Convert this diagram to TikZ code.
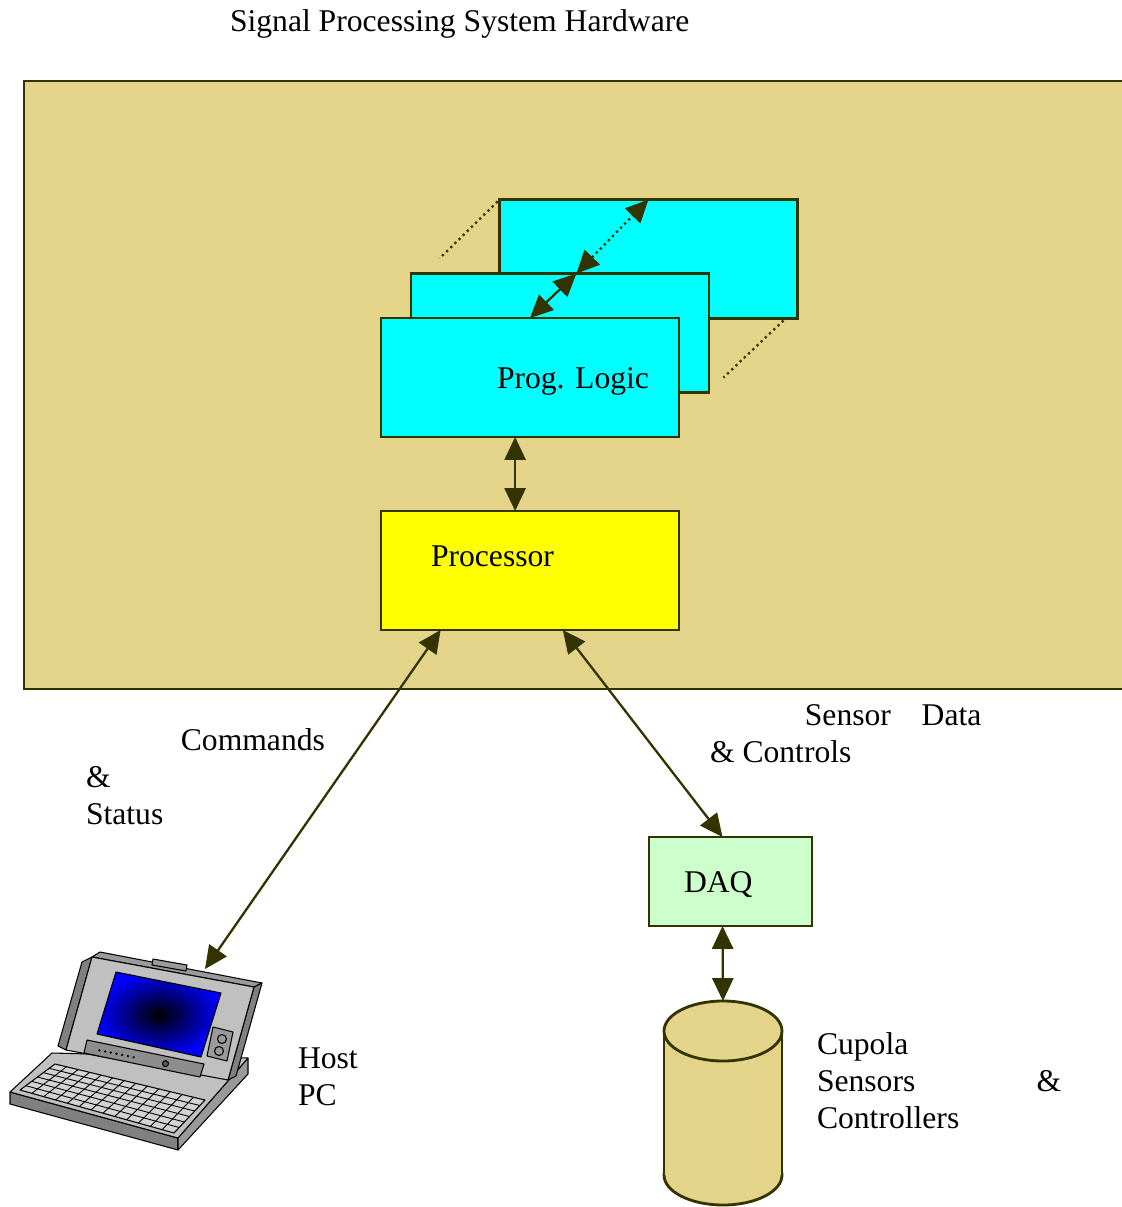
\documentclass[tikz,border=0pt]{standalone}
\usepackage{fontspec}
\setmainfont{Liberation Serif}
\usetikzlibrary{calc,arrows.meta}

\definecolor{boardtan}{RGB}{227,212,138}
\definecolor{edgeolive}{RGB}{51,51,0}
\definecolor{daqgreen}{RGB}{204,255,204}
\definecolor{logiccyan}{RGB}{0,255,255}
\definecolor{procyellow}{RGB}{255,255,0}
\definecolor{pcgray}{RGB}{192,192,192}
\definecolor{pcdark}{RGB}{128,128,128}

\begin{document}
\begin{tikzpicture}[x=0.02cm,y=-0.02cm,inner sep=0pt,outer sep=0pt,
    every node/.style={font=\fontsize{18}{21}\selectfont},
    blk/.style={draw=edgeolive,line width=1.6pt,minimum width=5.96cm,minimum height=2.38cm},
    link/.style={draw=edgeolive,line width=1.3pt,{Triangle[length=13pt,width=12pt]}-{Triangle[length=13pt,width=12pt]}},
    txt/.style={anchor=north west,align=left},
    pc/.style={draw=black,line width=0.6pt,line join=round}]
  \useasboundingbox (0,0) rectangle (1122,1207);

  \node[anchor=base west] (title) at (230,31) {Signal Processing System Hardware};

  % hardware board
  \filldraw[fill=boardtan,draw=edgeolive,line width=1.6pt] (24,81) rectangle (1160,689);

  % stacked logic boards
  \node[blk,fill=logiccyan] (back) at (648.5,259) {};
  \node[blk,fill=logiccyan] (mid) at (560,333) {};
  \node[blk,fill=logiccyan] (front) at (530,377.5) {};
  \node[anchor=base west] (front_txt) at (497,388) {Prog. Logic};
  \draw[edgeolive,dotted,line width=1.3pt] ($(back.north west)+(-2,2)$) -- ($(back.north west)+(-60,59)$);
  \draw[edgeolive,dotted,line width=1.3pt] ($(back.south east)+(-14,2)$) -- ($(back.south east)+(-74,59)$);

  \node[blk,fill=procyellow] (proc) at (530,570.5) {};
  \node[anchor=base west] (proc_txt) at (431,566) {Processor};

  \node[blk,fill=daqgreen,minimum width=3.26cm,minimum height=1.78cm] (daq) at (730.5,881.5) {};
  \node[anchor=base west] (daq_txt) at (684,892) {DAQ};

  % sensors and controllers
  \filldraw[fill=boardtan,draw=edgeolive,line width=1.6pt] (723,1175) ellipse [x radius=59,y radius=30];
  \fill[boardtan] (664,1031) rectangle (782,1175);
  \draw[edgeolive,line width=1.6pt] (664,1031) -- (664,1175) (782,1031) -- (782,1175);
  \filldraw[fill=boardtan,draw=edgeolive,line width=1.6pt] (723,1031) ellipse [x radius=59,y radius=30];
  \coordinate (cupola) at (723,1001);

  % host laptop
  \filldraw[pc,fill=pcdark] (10,1092) -- (178,1138) -- (178,1150) -- (10,1104) -- cycle;
  \filldraw[pc,fill=pcdark!80] (178,1138) -- (248,1058) -- (248,1074) -- (178,1150) -- cycle;
  \filldraw[pc,fill=pcgray] (10,1092) -- (52,1053) -- (248,1058) -- (178,1138) -- cycle;
  \coordinate (kfl) at (20,1090);
  \coordinate (kbl) at (55,1064);
  \coordinate (kbr) at (205,1100);
  \coordinate (kfr) at (174,1133);
  \filldraw[pc,fill=pcgray!70] (kfl) -- (kbl) -- (kbr) -- (kfr) -- cycle;
  \foreach \t in {1,...,5}
    \draw[black,line width=0.5pt] ($(kfl)!\t/6!(kbl)$) -- ($(kfr)!\t/6!(kbr)$);
  \foreach \t in {1,...,12}
    \draw[black,line width=0.5pt] ($(kfl)!\t/13!(kfr)$) -- ($(kbl)!\t/13!(kbr)$);
  \filldraw[pc,fill=pcdark] (92,957) -- (82,962) -- (58,1046) -- (66,1050) -- cycle;
  \filldraw[pc,fill=pcgray!80!black] (92,957) -- (100,952) -- (262,983) -- (254,987) -- cycle;
  \filldraw[pc,fill=pcdark] (254,987) -- (262,983) -- (236,1076) -- (228,1080) -- cycle;
  \filldraw[pc,fill=pcgray] (92,957) -- (254,987) -- (228,1080) -- (66,1050) -- cycle;
  \filldraw[pc,fill=pcgray!80!black] (153,959) -- (187,965) -- (186,971) -- (152,965) -- cycle;
  \shade[inner color=black,outer color=blue] (116,972) -- (221,993) -- (201,1057) -- (97,1034) -- cycle;
  \draw[pc] (116,972) -- (221,993) -- (201,1057) -- (97,1034) -- cycle;
  \filldraw[pc,fill=pcdark!90] (87,1040) -- (204,1064) -- (200,1077) -- (84,1053) -- cycle;
  \foreach \t in {0.1,0.15,...,0.4}
    \fill ($(88,1048)!\t!(202,1071)$) circle [radius=1.3];
  \filldraw[pc,fill=pcdark!70!black] ($(88,1048)!0.68!(202,1071)$) circle [radius=3];
  \filldraw[pc,fill=pcgray!80!black] (213,1027) -- (233,1032) -- (227,1061) -- (207,1056) -- cycle;
  \draw[pc] (222,1039) circle [radius=4.5] (219,1051) circle [radius=4.5];
  \coordinate (hostpc) at (205,969);

  % links
  \draw[link] (front.north) -- ($(mid.north west)!.555!(mid.north east)$);
  \draw[link,dotted] ($(mid.north west)!.555!(mid.north east)$) -- (back.north);
  \draw[link] ($(front.south west)!.45!(front.south east)$) -- ($(proc.north west)!.45!(proc.north east)$);
  \draw[link] ($(proc.south west)!.2!(proc.south east)$) -- (hostpc);
  \draw[link] ($(proc.south west)!.61!(proc.south east)$) -- ($(daq.north)+(-8,0)$);
  \draw[link] ($(daq.south)+(-8,0)$) -- (cupola);

  % labels
  \node[txt] (cmd_txt) at (86,729) {\hspace*{54pt}Commands\\\&\\Status};
  \node[txt] (sens_txt) at (710,705) {\hspace*{54pt}Sensor\hspace{13pt} Data\\\& Controls};
  \node[txt] (host_txt) at (298,1048) {Host\\PC};
  \node[txt] (cup_txt) at (817,1033) {Cupola\\Sensors\hspace{69pt}\&\\Controllers};
\end{tikzpicture}
\end{document}
